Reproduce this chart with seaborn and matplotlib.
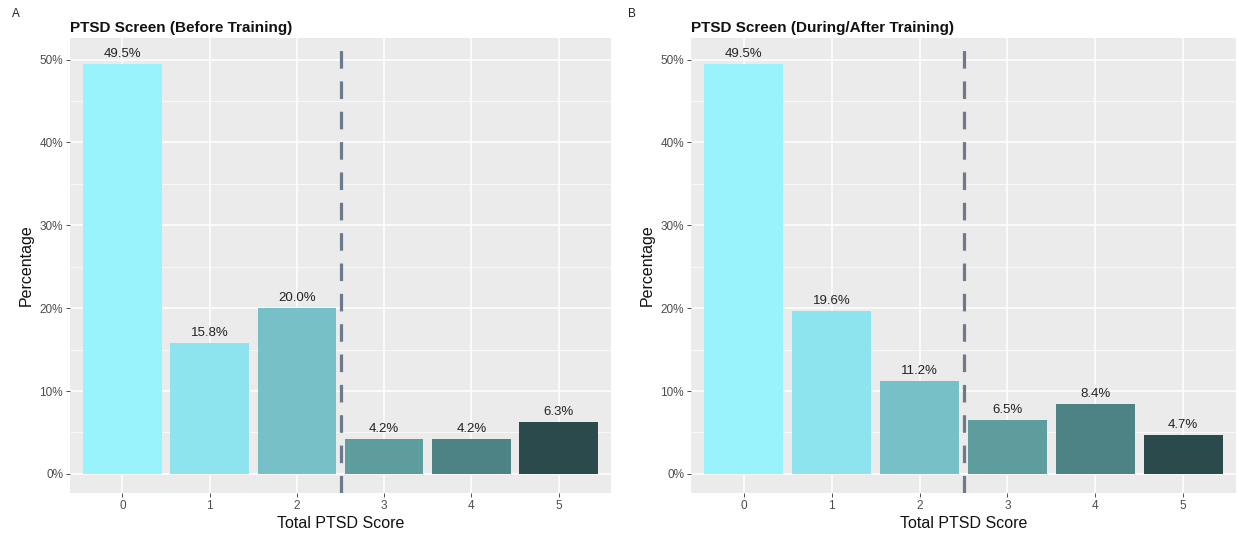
import matplotlib
matplotlib.use("Agg")
import matplotlib.pyplot as plt
from matplotlib.ticker import MultipleLocator, FuncFormatter
import pandas as pd
import seaborn as sns

### Data
scores = ["0", "1", "2", "3", "4", "5"]
before_pct = [49.5, 15.8, 20.0, 4.2, 4.2, 6.3]
after_pct = [49.5, 19.6, 11.2, 6.5, 8.4, 4.7]
titles = ["PTSD Screen (Before Training)", "PTSD Screen (During/After Training)"]
panel_tags = ["A", "B"]
bar_colors = ["#98F3FC", "#8DE4EE", "#78C0C8", "#5E9D9E", "#4E8385", "#2B4A4B"]

sns.set_theme(style="darkgrid", rc={"axes.facecolor": "#EBEBEB", "grid.color": "white"})
plt.rcParams["font.family"] = ["Liberation Sans", "DejaVu Sans"]

fig = plt.figure(figsize=(12.38, 5.4), dpi=100)
axes = [fig.add_axes([70 / 1238, 47 / 540, 541 / 1238, 455 / 540]),
        fig.add_axes([691 / 1238, 47 / 540, 545 / 1238, 455 / 540])]

for ax, vals, title, tag in zip(axes, [before_pct, after_pct], titles, panel_tags):
    df = pd.DataFrame({"score": scores, "pct": vals})
    sns.barplot(data=df, x="score", y="pct", hue="score", palette=bar_colors,
                legend=False, width=0.9, saturation=1, linewidth=0, ax=ax)
    for p, v in zip(ax.patches, vals):
        ax.text(p.get_x() + p.get_width() / 2, v + 0.5, f"{v:.1f}%",
                ha="center", va="bottom", fontsize=9.5, color="#222222")
    ax.axvline(2.5, color="#6D798C", lw=2.3, ls=(0, (5.5, 4)))
    ax.set_xlim(-0.6, 5.6)
    ax.set_ylim(-2.3, 52.6)
    ax.yaxis.set_major_locator(MultipleLocator(10))
    ax.yaxis.set_minor_locator(MultipleLocator(5))
    ax.yaxis.set_major_formatter(FuncFormatter(lambda y, _: f"{y:.0f}%"))
    ax.grid(which="major", color="white", lw=1.1)
    ax.grid(which="minor", axis="y", color="white", lw=0.5)
    ax.tick_params(axis="both", which="major", length=3, width=0.6, color="#333333",
                   labelsize=8.5, labelcolor="#4D4D4D", pad=2, bottom=True, left=True)
    ax.tick_params(which="minor", length=0)
    for s in ax.spines.values():
        s.set_visible(False)
    ax.set_xlabel("Total PTSD Score", fontsize=11.5, color="#111111", labelpad=3)
    ax.set_ylabel("Percentage", fontsize=11.5, color="#111111", labelpad=4)
    ax.set_title(title, loc="left", fontsize=11, fontweight="bold", color="#111111", pad=4)
    ax.set_axisbelow(True)

fig.text(12 / 1238, 1 - 17 / 540, panel_tags[0], fontsize=8.5, color="#222222")
fig.text(628 / 1238, 1 - 17 / 540, panel_tags[1], fontsize=8.5, color="#222222")

plt.savefig("out.png", dpi=100)
